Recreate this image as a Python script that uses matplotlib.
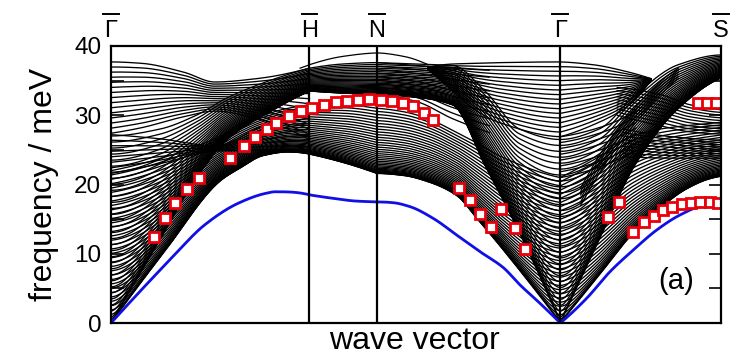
import numpy as np
import matplotlib.pyplot as plt

plt.rcParams['font.family'] = ['Liberation Sans', 'DejaVu Sans']

# high-symmetry points along the path
sym_x = [0.0, 0.3254, 0.436, 0.7366, 1.0]
sym_labels = ['Γ', 'H', 'N', 'Γ', 'S']

# transverse acoustic sheet (lower / upper edge)
ta_x = [0, 0.09, 0.18, 0.21, 0.25, 0.29, 0.3254, 0.38, 0.436, 0.48, 0.52, 0.567, 0.60, 0.64, 0.7366,
        0.80, 0.856, 0.90, 0.944, 0.98, 1.0]
ta_lo = [0, 10.6, 20.6, 22.3, 24.2, 24.7, 24.4, 23.2, 21.6, 21.3, 20.4, 18.4, 15.1, 10.9, 0,
         6.9, 13.0, 16.6, 19.4, 20.8, 21.2]
ta_hi = [22, 24, 27, 28.5, 30, 31, 31.5, 31.5, 31, 30.5, 29.5, 27.5, 26, 24, 21,
         24, 27, 28, 28.5, 28.8, 29]

# longitudinal sheet
la_x = [0, 0.08, 0.14, 0.19, 0.26, 0.3254, 0.38, 0.436, 0.50, 0.56, 0.613, 0.67, 0.7366,
        0.80, 0.86, 0.93, 1.0]
la_lo = [0, 12, 21, 26.5, 30.5, 33.5, 33.2, 33.0, 32.6, 31.5, 22.8, 13, 0,
         12, 23, 31, 35.4]
la_hi = [27, 28, 30, 32.5, 35, 36.8, 37.4, 37.6, 37.4, 37.2, 33.5, 28, 26.5,
         28, 33, 37.3, 38.7]

# upper fan between Γ and H
fan_x = [0, 0.05, 0.12, 0.17, 0.24, 0.3254]
fan_lo = [27.4, 28.2, 29.8, 30.6, 29.5, 26.5]
fan_hi = [37.7, 37.5, 36.2, 34.8, 35.3, 36.8]

# middle fan starting below the upper one at Γ
mid_x = [0, 0.08, 0.17, 0.25, 0.3254]
mid_lo = [21.6, 23.0, 24.8, 25.0, 24.6]
mid_hi = [27.2, 26.6, 25.6, 28.5, 30.5]

# bands leaving N towards the second Γ
nm_x = [0.436, 0.50, 0.56, 0.62]
nm_lo = [33.0, 32.0, 29.5, 27.5]
nm_hi = [37.6, 37.2, 36.8, 36.5]

# optical lens centred on the second Γ
lens_x = [0.52, 0.56, 0.60, 0.638, 0.7366, 0.79, 0.85, 0.885]
lens_lo = [36.6, 33.5, 30.6, 28.9, 26.9, 28.6, 31.5, 35.0]
lens_hi = [37.0, 37.4, 37.5, 37.6, 37.7, 37.3, 36.2, 35.3]

# flat bands just below the lens, right of Γ
gr_x = [0.7366, 0.80, 0.86]
gr_lo = [21.0, 22.5, 25.0]
gr_hi = [26.9, 28.2, 30.5]

# steep bundle and flat bands towards S
diag_x = [0.77, 0.83, 0.93]
diag_lo = [17.0, 25.5, 35.3]
diag_hi = [19.5, 28.0, 36.8]
s1_x = [0.83, 0.90, 0.95, 1.0]
s1_lo = [30.0, 28.5, 27.6, 27.3]
s1_hi = [34.0, 33.0, 31.5, 30.8]
s2_x = [0.84, 0.93, 1.0]
s2_lo = [24.0, 23.8, 23.8]
s2_hi = [28.0, 26.8, 26.4]

# single arc above N
arc_x = [0.31, 0.3254, 0.38, 0.436, 0.48, 0.52]
arc_y = [36.8, 37.3, 38.5, 39.0, 38.5, 37.3]

# surface mode (blue)
surf_x = [0, 0.05, 0.0995, 0.154, 0.2087, 0.2525, 0.2689, 0.3254,
          0.3644, 0.4028, 0.436,
          0.4628, 0.4902, 0.5284, 0.5667, 0.6049, 0.6431, 0.6705, 0.7033, 0.7366,
          0.7798, 0.818, 0.8562, 0.8946, 0.9328, 0.9656, 1.0]
surf_y = [0, 4.8, 9.4, 14.2, 17.3, 18.7, 18.95, 18.5,
          18.0, 17.6, 17.5,
          17.37, 16.8, 15.1, 12.7, 10.3, 8.0, 5.5, 2.84, 0,
          3.57, 7.41, 10.54, 13.43, 15.6, 16.8, 17.15]

# measured points (red squares)
exp_x = [0.0705, 0.0885, 0.1054, 0.1246, 0.1448, 0.1951, 0.2175, 0.2366, 0.2552, 0.27, 0.2913,
         0.311, 0.3295, 0.3497, 0.3684, 0.3869, 0.4054, 0.4234, 0.4421, 0.4602, 0.4782, 0.4951,
         0.5126, 0.5284,
         0.571, 0.5885, 0.6054, 0.623, 0.6398, 0.6618, 0.6792,
         0.8143, 0.8328, 0.8557, 0.8743, 0.8897, 0.905, 0.9202, 0.9356, 0.9508, 0.966, 0.9815,
         0.9957, 0.9623, 0.977, 0.9918]
exp_y = [12.42, 15.12, 17.29, 19.31, 21.0, 23.78, 25.56, 26.86, 27.97, 28.92, 29.89,
         30.57, 31.05, 31.52, 31.91, 32.1, 32.2, 32.3, 32.2, 32.06, 31.81, 31.29,
         30.28, 29.36,
         19.54, 17.76, 15.78, 13.82, 16.5, 13.67, 10.69,
         15.35, 17.52, 13.14, 14.63, 15.49, 16.27, 16.79, 17.18, 17.37, 17.47, 17.47,
         17.28, 31.73, 31.81, 31.81]


def end_slope(h0, h1, d0, d1):
    m = ((2 * h0 + h1) * d0 - h0 * d1) / (h0 + h1)
    if np.sign(m) != np.sign(d0):
        m = 0.0
    elif np.sign(d0) != np.sign(d1) and abs(m) > abs(3 * d0):
        m = 3 * d0
    return m


def pchip(xk, yk, x):
    xk = np.asarray(xk, float)
    yk = np.asarray(yk, float)
    h = np.diff(xk)
    d = np.diff(yk) / h
    n = len(xk)
    m = np.zeros(n)
    if n == 2:
        m[:] = d[0]
    else:
        for k in range(1, n - 1):
            if d[k - 1] * d[k] > 0:
                w1 = 2 * h[k] + h[k - 1]
                w2 = h[k] + 2 * h[k - 1]
                m[k] = (w1 + w2) / (w1 / d[k - 1] + w2 / d[k])
        m[0] = end_slope(h[0], h[1], d[0], d[1])
        m[-1] = end_slope(h[-1], h[-2], d[-1], d[-2])
    i = np.clip(np.searchsorted(xk, x) - 1, 0, n - 2)
    s = (x - xk[i]) / h[i]
    return ((2 * s**3 - 3 * s**2 + 1) * yk[i] + (s**3 - 2 * s**2 + s) * h[i] * m[i]
            + (-2 * s**3 + 3 * s**2) * yk[i + 1] + (s**3 - s**2) * h[i] * m[i + 1])


def along_path(xk, yk, num=150):
    # smooth inside each segment, keep kinks at the symmetry points
    xk = np.asarray(xk, float)
    yk = np.asarray(yk, float)
    cuts = [i for i in range(1, len(xk) - 1) if np.min(np.abs(np.array(sym_x) - xk[i])) < 1e-9]
    bounds = [0] + cuts + [len(xk) - 1]
    xs, ys = [], []
    for a, b in zip(bounds[:-1], bounds[1:]):
        xx = np.linspace(xk[a], xk[b], num)
        xs.append(xx)
        ys.append(pchip(xk[a:b + 1], yk[a:b + 1], xx))
    return np.concatenate(xs), np.concatenate(ys)


def draw_family(ax, xk, lo, hi, n, kind='lin'):
    x, y_lo = along_path(xk, lo)
    _, y_hi = along_path(xk, hi)
    if kind == 'sq':
        y_hi = np.maximum(y_hi, y_lo)
    for t in np.linspace(0, 1, n):
        if kind == 'sq':
            y = np.sqrt(y_lo**2 + t**2 * (y_hi**2 - y_lo**2))
        else:
            y = y_lo + t * (y_hi - y_lo)
        ax.plot(x, y, color='k', lw=0.95, zorder=2)


fig = plt.figure(figsize=(7.37, 3.56), dpi=100)
ax = fig.add_axes([111 / 737, 33 / 356, 610 / 737, 277 / 356])

draw_family(ax, ta_x, ta_lo, ta_hi, 36, 'sq')
draw_family(ax, la_x, la_lo, la_hi, 32, 'sq')
draw_family(ax, fan_x, fan_lo, fan_hi, 15)
draw_family(ax, mid_x, mid_lo, mid_hi, 8)
draw_family(ax, nm_x, nm_lo, nm_hi, 10)
draw_family(ax, lens_x, lens_lo, lens_hi, 17)
draw_family(ax, gr_x, gr_lo, gr_hi, 8)
draw_family(ax, diag_x, diag_lo, diag_hi, 6)
draw_family(ax, s1_x, s1_lo, s1_hi, 10)
draw_family(ax, s2_x, s2_lo, s2_hi, 9)
xa, ya = along_path(arc_x, arc_y)
ax.plot(xa, ya, color='k', lw=0.9, zorder=2)

xs, ys = along_path(surf_x, surf_y)
ax.plot(xs, ys, color='#0f0fe6', lw=2.0, zorder=3)

ax.plot(exp_x, exp_y, 's', ms=6.5, mfc='white', mec='#e8000b', mew=2.0, zorder=4)

for xv in sym_x[1:4]:
    ax.axvline(xv, color='k', lw=1.6, zorder=3)

ax.set_xlim(0, 1)
ax.set_ylim(0, 40)
ax.set_xticks([])
ax.set_yticks([0, 10, 20, 30, 40])
ax.set_yticks([5, 15, 25, 35], minor=True)
ax.tick_params(axis='y', which='both', direction='in', length=9, width=1.2,
               right=True, labelsize=17.5, pad=7)
for sp in ax.spines.values():
    sp.set_linewidth(1.6)
    sp.set_zorder(5)

# point labels with overbars
for xv, lab in zip(sym_x, sym_labels):
    ax.text(xv, 1.0325, lab, transform=ax.get_xaxis_transform(), ha='center',
            va='baseline', fontsize=17)
    ax.plot([xv - 0.013, xv + 0.013], [1.1155, 1.1155], color='k', lw=1.4,
            transform=ax.get_xaxis_transform(), clip_on=False)

fig.text(44 / 737, 0.4817, 'frequency / meV', rotation=90, ha='center', va='center', fontsize=23)
fig.text(414 / 737, 7 / 356, 'wave vector', ha='center', va='baseline', fontsize=23)
ax.text(0.927, 0.15, '(a)', transform=ax.transAxes, ha='center', va='center', fontsize=21)

fig.savefig('out.png', dpi=100, facecolor='white')
